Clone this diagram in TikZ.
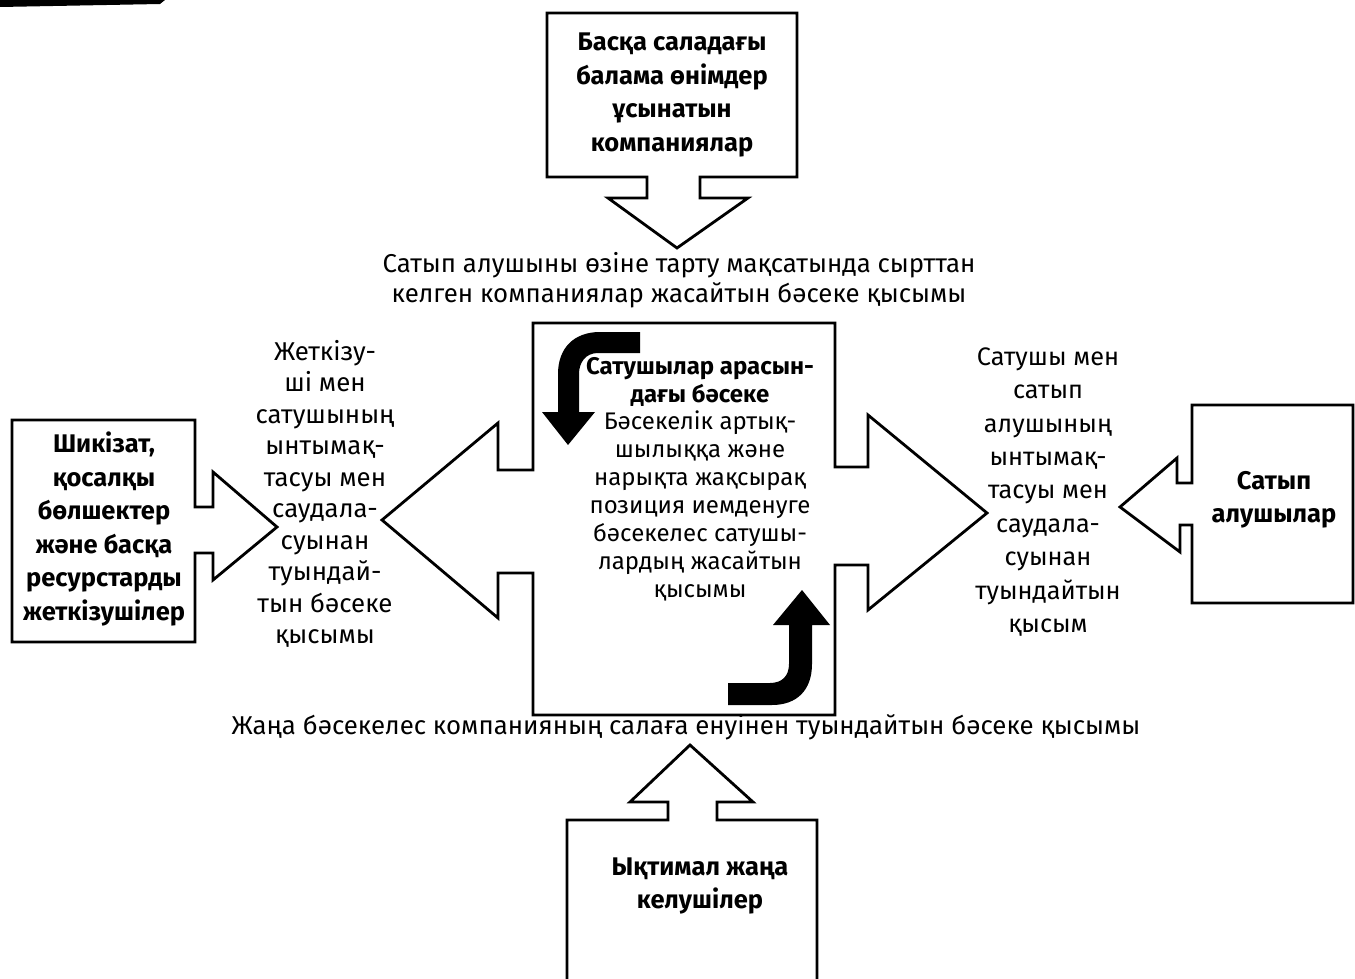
\documentclass[tikz,border=0pt]{standalone}
\usepackage{fontspec}
\setmainfont{Fira Sans}
\begin{document}
\begin{tikzpicture}[x=1pt,y=-1pt,
  block/.style={draw=black,fill=white,line width=2.8pt,line join=miter},
  bendarrow/.style={fill=black},
  caption/.style={font=\fontsize{25.8}{30}\selectfont,align=center,inner sep=0pt},
  sidetext/.style={font=\fontsize{25.8}{31.5}\selectfont,align=center,inner sep=0pt},
  righttext/.style={font=\fontsize{25.3}{33.4}\selectfont,align=center,inner sep=0pt},
  midtext/.style={font=\fontsize{24}{27.9}\selectfont,align=center,inner sep=0pt},
  boxtext/.style={font=\bfseries\fontsize{25.5}{33.5}\selectfont,align=center,inner sep=0pt},
]
\useasboundingbox (0,0) rectangle (1355,979);

% edge of the page
\fill (0,0) -- (165,0) -- (160,4) -- (0,7) -- cycle;

% substitutes (top)
\draw[block] (547,13) -- (797,13) -- (797,177) -- (700,177) -- (700,198)
  -- (748,198) -- (677,248) -- (608,198) -- (647,198) -- (647,177)
  -- (547,177) -- cycle;
\node[boxtext] (subst) at (672,95) {Басқа саладағы\\балама өнімдер\\ұсынатын\\компаниялар};

% rivalry (centre)
\draw[block] (533,323) -- (835,323) -- (835,467) -- (868,467) -- (868,415)
  -- (987,513) -- (868,610) -- (868,565) -- (835,565) -- (835,715)
  -- (533,715) -- (533,573) -- (498,573) -- (498,618) -- (382,520)
  -- (498,423) -- (498,470) -- (533,470) -- cycle;

% bent arrows inside the centre block
\fill[bendarrow] (640,332) -- (600,332) .. controls (574,332) and (558,348) .. (558,374)
  -- (558,412) -- (542,412) -- (568,445) -- (595,412) -- (579,412) -- (579,374)
  .. controls (579,362) and (586,353) .. (598,353) -- (640,353) -- cycle;
\fill[bendarrow] (728,683) -- (770,683) .. controls (782,683) and (789,676) .. (789,664)
  -- (789,625) -- (773,625) -- (802,590) -- (830,625) -- (812,625) -- (812,664)
  .. controls (812,690) and (797,705) .. (772,705) -- (728,705) -- cycle;

\node[midtext] (rivalry) at (700,479) {\textbf{Сатушылар арасын-}\\\textbf{дағы бәсеке}\\Бәсекелік артық-\\шылыққа және\\нарықта жақсырақ\\позиция иемденуге\\бәсекелес сатушы-\\лардың жасайтын\\қысымы};

% suppliers (left)
\draw[block] (12,420) -- (195,420) -- (195,507) -- (213,507) -- (213,472)
  -- (277,527) -- (213,580) -- (213,553) -- (195,553) -- (195,642)
  -- (12,642) -- cycle;
\node[boxtext] (suppliers) at (104,529) {Шикізат,\\қосалқы\\бөлшектер\\және басқа\\ресурстарды\\жеткізушілер};

% buyers (right)
\draw[block] (1192,405) -- (1353,405) -- (1353,603) -- (1192,603) -- (1192,525)
  -- (1180,525) -- (1180,552) -- (1120,507) -- (1177,458) -- (1177,483)
  -- (1192,483) -- cycle;
\node[boxtext] (buyers) at (1274,500) {Сатып\\алушылар};

% new entrants (bottom)
\fill[white] (567,979) -- (567,820) -- (668,820) -- (668,802) -- (630,802)
  -- (690,745) -- (753,802) -- (717,802) -- (717,820) -- (817,820) -- (817,979) -- cycle;
\draw[line width=2.8pt,line join=miter] (567,982) -- (567,820) -- (668,820) -- (668,802) -- (630,802)
  -- (690,745) -- (753,802) -- (717,802) -- (717,820) -- (817,820) -- (817,982);
\node[boxtext] (entrants) at (700,886) {Ықтимал жаңа\\келушілер};

% pressure captions
\node[caption] (topcap) at (679,280) {Сатып алушыны өзіне тарту мақсатында сырттан\\келген компаниялар жасайтын бәсеке қысымы};
\node[caption] (botcap) at (686,727) {Жаңа бәсекелес компанияның салаға енуінен туындайтын бәсеке қысымы};
\node[sidetext] (lefttxt) at (325,494) {Жеткізу-\\ші мен\\сатушының\\ынтымақ-\\тасуы мен\\саудала-\\суынан\\туындай-\\тын бәсеке\\қысымы};
\node[righttext] (righttxt) at (1048,492) {Сатушы мен\\сатып\\алушының\\ынтымақ-\\тасуы мен\\саудала-\\суынан\\туындайтын\\қысым};
\end{tikzpicture}
\end{document}
